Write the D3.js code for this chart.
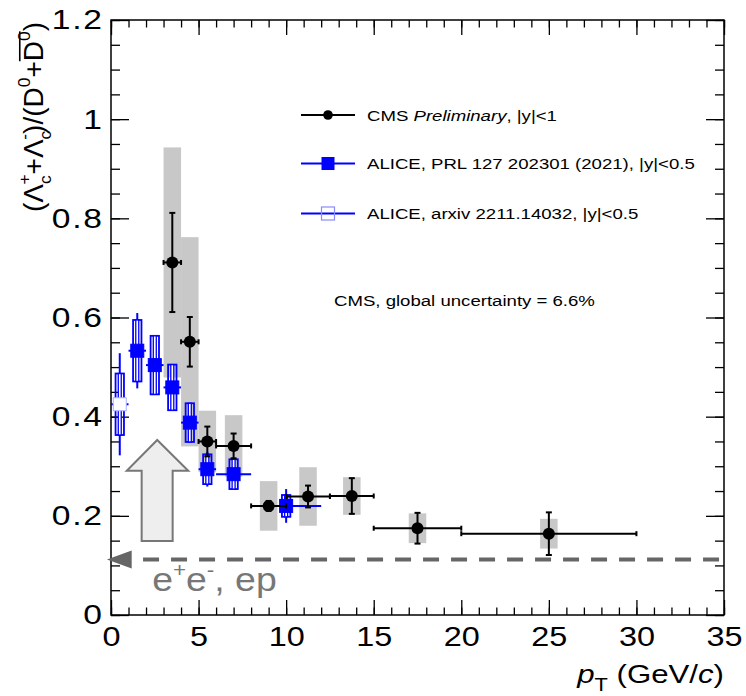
<!DOCTYPE html>
<html><head><meta charset="utf-8">
<script src="https://cdn.jsdelivr.net/npm/d3@7"></script>
<style>
body{margin:0;background:#fff}
svg{display:block}
text{font-family:"Liberation Sans",Arial,Helvetica,sans-serif}
</style>
</head><body>
<svg id="c" width="746" height="696"></svg>
<script>
// ---------------- data ----------------
// CMS Preliminary, |y|<1
const cmsPt    = [3.5, 4.5, 5.5, 7, 9, 11.25, 13.75, 17.5, 25];
const cmsPtLo  = [3, 4, 5, 6, 8, 10, 12.5, 15, 20];
const cmsPtHi  = [4, 5, 6, 8, 10, 12.5, 15, 20, 30];
const cmsRatio = [0.711, 0.551, 0.350, 0.341, 0.220, 0.239, 0.240, 0.175, 0.164];
const cmsStat  = [0.100, 0.050, 0.030, 0.025, 0.010, 0.022, 0.036, 0.031, 0.043];
const cmsSyst  = [0.232, 0.211, 0.062, 0.062, 0.050, 0.059, 0.038, 0.030, 0.030];

// ALICE, PRL 127 202301 (2021), |y|<0.5
const prlPt    = [1.5, 2.5, 3.5, 4.5, 5.5, 7, 10];
const prlPtLo  = [1, 2, 3, 4, 5, 6, 8];
const prlPtHi  = [2, 3, 4, 5, 6, 8, 12];
const prlRatio = [0.533, 0.504, 0.459, 0.388, 0.294, 0.284, 0.220];
const prlStat  = [0.076, 0.040, 0.030, 0.030, 0.035, 0.020, 0.034];
const prlSyst  = [0.062, 0.059, 0.046, 0.039, 0.030, 0.030, 0.022];

// ALICE, arxiv 2211.14032, |y|<0.5
const arxPt    = [0.5];
const arxPtLo  = [0];
const arxPtHi  = [1];
const arxRatio = [0.425];
const arxStat  = [0.103];
const arxSyst  = [0.062];

// e+e-, ep reference value
const eeRatio = 0.112;

// axis ticks
const xTickVals   = [0, 5, 10, 15, 20, 25, 30, 35];
const xTickLabels = ["0", "5", "10", "15", "20", "25", "30", "35"];
const yTickVals   = [0, 0.2, 0.4, 0.6, 0.8, 1.0, 1.2];
const yTickLabels = ["0", "0.2", "0.4", "0.6", "0.8", "1", "1.2"];

const legendLabels = ["CMS", "ALICE, PRL 127 202301 (2021), |y|<0.5", "ALICE, arxiv 2211.14032, |y|<0.5"];

// ---------------- drawing ----------------
const svg = d3.select("#c");
const SX = 1.2;
const FONT = '"Liberation Sans",Arial,Helvetica,sans-serif';
const BLUE = "#0000ff";

const x = d3.scaleLinear().domain([0, 35]).range([111, 724]);
const y = d3.scaleLinear().domain([0, 1.2]).range([615, 20]);
const X0 = x(0), X1 = x(35), Y0 = y(0), Y1 = y(1.2);

function rich(sel, parts, F) {
  let cur = 0;
  parts.forEach(p => {
    const o = typeof p === "string" ? {t: p} : p;
    const sh = (o.y || 0) * F;
    const ts = sel.append("tspan").text(o.t).attr("font-size", F * (o.s || 1));
    if (sh - cur !== 0) ts.attr("dy", sh - cur);
    cur = sh;
    if (o.dx) ts.attr("dx", o.dx * F);
    if (o.i) ts.attr("font-style", "italic");
  });
  return sel;
}

// minor + major ticks
const xMinor = d3.range(0, 35.001, 1);
const yMinor = d3.range(0, 1.2001, 0.05);

function ticks(gen, tr, vals, size, fmt, pad, fs, ls) {
  const g = svg.append("g").attr("transform", tr)
    .call(gen.tickValues(vals).tickSize(-size).tickSizeOuter(0).tickPadding(pad).tickFormat(fmt));
  g.attr("font-family", FONT);
  g.select(".domain").remove();
  g.selectAll("line").attr("stroke", "#000").attr("stroke-width", 1.3);
  g.selectAll("text").attr("font-size", fs).attr("fill", "#000").attr("transform", `scale(${SX},1)`)
    .attr("letter-spacing", ls || 0);
  return g;
}
const none = () => "";
ticks(d3.axisBottom(x), `translate(0,${Y0})`, xMinor, 7.5, none, 0, 0);
ticks(d3.axisBottom(x), `translate(0,${Y0})`, xTickVals, 15, (d, i) => xTickLabels[i], 12, 27);
ticks(d3.axisTop(x), `translate(0,${Y1})`, xMinor, 7.5, none, 0, 0);
ticks(d3.axisTop(x), `translate(0,${Y1})`, xTickVals, 15, none, 0, 0);
ticks(d3.axisLeft(y), `translate(${X0},0)`, yMinor, 9, none, 0, 0);
ticks(d3.axisLeft(y), `translate(${X0},0)`, yTickVals, 18, (d, i) => yTickLabels[i], 6, 28, 1.5);
ticks(d3.axisRight(y), `translate(${X1},0)`, yMinor, 9, none, 0, 0);
ticks(d3.axisRight(y), `translate(${X1},0)`, yTickVals, 18, none, 0, 0);

svg.append("rect").attr("x", X0).attr("y", Y1).attr("width", X1 - X0).attr("height", Y0 - Y1)
  .attr("fill", "none").attr("stroke", "#000").attr("stroke-width", 1.5);

// ---- e+e-, ep annotation ----
const ann = svg.append("g");
ann.append("line").attr("x1", x(1.83)).attr("x2", x(34.8)).attr("y1", y(eeRatio)).attr("y2", y(eeRatio))
  .attr("stroke", "#666").attr("stroke-width", 4).attr("stroke-dasharray", "16,12");
ann.append("path")
  .attr("d", `M${x(-0.23)},${y(eeRatio)} L${x(1.18)},${y(eeRatio + 0.018)} L${x(1.18)},${y(eeRatio - 0.018)} Z`)
  .attr("fill", "#666");
const eeT = ann.append("text").attr("fill", "#777")
  .attr("transform", `translate(${x(2.35)},${y(eeRatio) + 32}) scale(1.1,1)`);
rich(eeT, ["e", {t: "+", s: 0.6, y: -0.42}, {t: "e", y: 0}, {t: "-", s: 0.6, y: -0.42}, {t: ", ep", y: 0}], 34);

// big up arrow
const arrowX = 2.64, arrowTip = 0.353, arrowHead = 0.291, arrowBot = 0.149;
const arrowPts = [[arrowX, arrowTip], [4.41, arrowHead], [3.52, arrowHead], [3.52, arrowBot],
                  [1.75, arrowBot], [1.75, arrowHead], [0.90, arrowHead]];
ann.append("path").attr("d", d3.line().x(d => x(d[0])).y(d => y(d[1]))(arrowPts) + "Z")
  .attr("fill", "#eeeeee").attr("stroke", "#777").attr("stroke-width", 2);

// ---- CMS systematic boxes ----
const cms = cmsPt.map((p, i) => ({p, lo: cmsPtLo[i], hi: cmsPtHi[i], r: cmsRatio[i], st: cmsStat[i], sy: cmsSyst[i]}));
svg.append("g").selectAll("rect").data(cms).join("rect")
  .attr("x", d => x(d.p - 0.5)).attr("width", d => x(d.p + 0.5) - x(d.p - 0.5))
  .attr("y", d => y(d.r + d.sy)).attr("height", d => y(d.r - d.sy) - y(d.r + d.sy))
  .attr("fill", "#c8c8c8");

// ---- ALICE points ----
function alice(pt, lo, hi, r, st, sy, open) {
  const data = pt.map((p, i) => ({p, lo: lo[i], hi: hi[i], r: r[i], st: st[i], sy: sy[i]}));
  const g = svg.append("g");
  g.selectAll(".h").data(data).join("line")
    .attr("x1", d => x(d.lo)).attr("x2", d => x(d.hi)).attr("y1", d => y(d.r)).attr("y2", d => y(d.r))
    .attr("stroke", BLUE).attr("stroke-width", 2);
  g.selectAll(".v").data(data).join("line")
    .attr("x1", d => x(d.p)).attr("x2", d => x(d.p)).attr("y1", d => y(d.r - d.st)).attr("y2", d => y(d.r + d.st))
    .attr("stroke", BLUE).attr("stroke-width", 2);
  g.selectAll(".bo").data(data).join("rect")
    .attr("x", d => x(d.p - 0.24)).attr("width", d => x(d.p + 0.24) - x(d.p - 0.24))
    .attr("y", d => y(d.r + d.sy)).attr("height", d => y(d.r - d.sy) - y(d.r + d.sy))
    .attr("fill", "none").attr("stroke", BLUE).attr("stroke-width", 1.8);
  g.selectAll(".bi").data(data).join("rect")
    .attr("x", d => x(d.p - 0.085)).attr("width", d => x(d.p + 0.085) - x(d.p - 0.085))
    .attr("y", d => y(d.r + d.sy)).attr("height", d => y(d.r - d.sy) - y(d.r + d.sy))
    .attr("fill", "#fff").attr("stroke", BLUE).attr("stroke-width", 1.3);
  g.selectAll(".m").data(data).join("rect")
    .attr("x", d => x(d.p) - 6.5).attr("y", d => y(d.r) - 6.5).attr("width", 13).attr("height", 13)
    .attr("fill", open ? "#fff" : BLUE).attr("stroke", open ? "#aab0ff" : BLUE).attr("stroke-width", 1);
}
alice(arxPt, arxPtLo, arxPtHi, arxRatio, arxStat, arxSyst, true);
alice(prlPt, prlPtLo, prlPtHi, prlRatio, prlStat, prlSyst, false);

// ---- CMS error bars and markers ----
const cg = svg.append("g").attr("stroke", "#000").attr("stroke-width", 2);
cms.forEach(d => {
  const cx = x(d.p), cy = y(d.r);
  cg.append("line").attr("x1", x(d.lo)).attr("x2", x(d.hi)).attr("y1", cy).attr("y2", cy);
  cg.append("line").attr("x1", cx).attr("x2", cx).attr("y1", y(d.r - d.st)).attr("y2", y(d.r + d.st));
  [x(d.lo), x(d.hi)].forEach(e => cg.append("line").attr("x1", e).attr("x2", e).attr("y1", cy - 2.5).attr("y2", cy + 2.5));
  [y(d.r - d.st), y(d.r + d.st)].forEach(e => cg.append("line").attr("x1", cx - 3).attr("x2", cx + 3).attr("y1", e).attr("y2", e));
});
svg.append("g").selectAll("circle").data(cms).join("circle")
  .attr("cx", d => x(d.p)).attr("cy", d => y(d.r)).attr("r", 6).attr("fill", "#000");

// ---- legend ----
const LX1 = 301, LX2 = 355, LM = 328, LT = 367;
const rows = [115, 163.5, 213.5];
const leg = svg.append("g");
leg.append("line").attr("x1", LX1).attr("x2", LX2).attr("y1", rows[0]).attr("y2", rows[0]).attr("stroke", "#000").attr("stroke-width", 2);
leg.append("circle").attr("cx", LM).attr("cy", rows[0]).attr("r", 4.8).attr("fill", "#000");
leg.append("line").attr("x1", LX1).attr("x2", LX2).attr("y1", rows[1]).attr("y2", rows[1]).attr("stroke", BLUE).attr("stroke-width", 2);
leg.append("rect").attr("x", LM - 6.5).attr("y", rows[1] - 6.5).attr("width", 13).attr("height", 13).attr("fill", BLUE);
leg.append("line").attr("x1", LX1).attr("x2", LX2).attr("y1", rows[2]).attr("y2", rows[2]).attr("stroke", BLUE).attr("stroke-width", 2);
leg.append("rect").attr("x", LM - 6.5).attr("y", rows[2] - 6.5).attr("width", 13).attr("height", 13)
  .attr("fill", "none").attr("stroke", "#8a8aff").attr("stroke-width", 1.2);

const LF = 15.5;
function legText(i, parts) {
  const t = leg.append("text").attr("fill", "#000").attr("transform", `translate(${LT},${rows[i] + 5.5}) scale(${SX},1)`);
  rich(t, parts, LF);
}
legText(0, [legendLabels[0] + " ", {t: "Preliminary", i: true}, ", |y|<1"]);
legText(1, [legendLabels[1]]);
legText(2, [legendLabels[2]]);

svg.append("text").attr("font-size", 15.5).attr("fill", "#000")
  .attr("transform", `translate(334,306) scale(${SX},1)`)
  .text("CMS, global uncertainty = 6.6%");

// ---- axis titles ----
const xt = svg.append("text").attr("text-anchor", "end").attr("fill", "#000")
  .attr("transform", `translate(${X1},683) scale(${SX},1)`);
rich(xt, [{t: "p", i: true}, {t: "T", s: 0.7, y: 0.3}, {t: " (GeV/", y: 0}, {t: "c", i: true}, ")"], 26);

const YF = 28;
const YT = Y1 + 2;
const yt = svg.append("text").attr("text-anchor", "end").attr("fill", "#000")
  .attr("transform", `translate(43,${YT}) rotate(-90)`);
rich(yt, [
  "(\u039B", {t: "c", s: 0.62, y: 0.28}, {t: "+", s: 0.62, y: -0.45, dx: -0.33},
  {t: "+\u039B", y: 0}, {t: "c", s: 0.62, y: 0.28}, {t: "-", s: 0.62, y: -0.45, dx: -0.32},
  {t: ")/(D", y: 0}, {t: "0", s: 0.62, y: -0.45}, {t: "+D", y: 0}, {t: "0", s: 0.62, y: -0.45}, {t: ")", y: 0}
], YF);
// overline on the anti-D
(function () {
  const node = yt.node();
  const s = node.textContent;
  const iD = s.lastIndexOf("D");
  const i0 = s.lastIndexOf("0");
  const a = node.getStartPositionOfChar(iD).x;
  const b = node.getEndPositionOfChar(i0).x;
  svg.append("line").attr("transform", `translate(43,${YT}) rotate(-90)`)
    .attr("x1", a).attr("x2", b).attr("y1", -YF * 0.83).attr("y2", -YF * 0.83)
    .attr("stroke", "#000").attr("stroke-width", 1.6);
})();
</script>
</body></html>
